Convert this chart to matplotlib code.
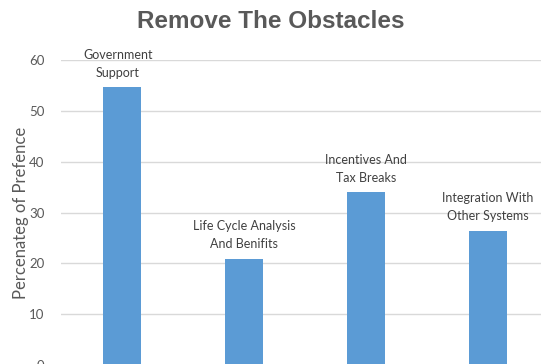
import matplotlib.pyplot as plt

categories = ["Government\nSupport", "Life Cycle Analysis\nAnd Benifits",
              "Incentives And\nTax Breaks", "Integration With\nOther Systems"]
values = [54.7, 20.9, 34.0, 26.4]
yticks = [0, 10, 20, 30, 40, 50, 60]

plt.rcParams['font.family'] = ['Lato', 'DejaVu Sans']
text_color = "#595959"

fig = plt.figure(figsize=(5.41, 3.64), dpi=100)
ax = fig.add_axes([61 / 541, -1 / 364, 488 / 541, 305 / 364])

x = range(len(values))
ax.bar(x, values, width=0.31, color="#5b9bd5", zorder=3)

for i, (label, val) in enumerate(zip(categories, values)):
    ax.annotate(label, (i, val), xytext=(-3 if i == 0 else 0, 6),
                textcoords="offset points", ha="center", va="bottom",
                fontsize=9, color="#404040", linespacing=1.6)

ax.set_xlim(-0.5, 3.5)
ax.set_ylim(0, 60)
ax.set_yticks(yticks)
ax.set_xticks([])
ax.tick_params(axis="y", length=0, pad=12, labelsize=9.5, labelcolor=text_color)
ax.grid(axis="y", color="#d9d9d9", linewidth=1, zorder=0)
for s in ax.spines.values():
    s.set_visible(False)

ax.set_ylabel("Percenateg of Prefence", fontsize=12, color=text_color, labelpad=0)
fig.text(0.5, 0.942, "Remove The Obstacles", ha="center", va="center",
         fontsize=17.5, fontweight="heavy", color=text_color,
         family=["Liberation Sans", "DejaVu Sans"])

fig.savefig("out.png", dpi=100)
